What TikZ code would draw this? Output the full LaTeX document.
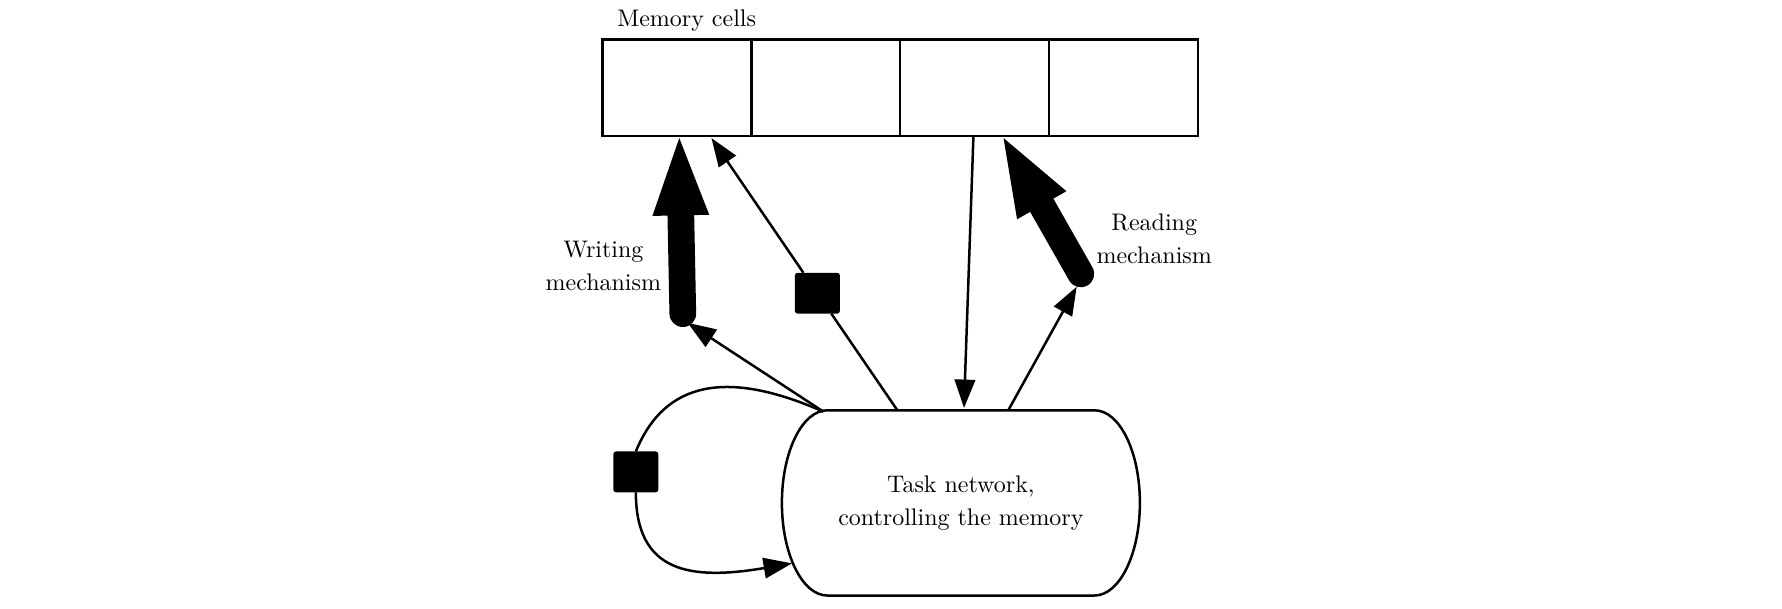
\documentclass[tikz,border=0pt]{standalone}
\usepackage{fontspec}
\usetikzlibrary{arrows.meta,calc}
\begin{document}
\begin{tikzpicture}[x=0.5pt,y=-0.5pt,
  font=\fontsize{10.55}{14.6}\selectfont,
  line width=1.1pt,
  cell/.style={draw, minimum width=65.45pt, minimum height=42.55pt, inner sep=0pt, outer sep=0pt},
  gate/.style={fill=black, minimum width=19.8pt, minimum height=18pt, inner sep=0pt, outer sep=0pt, rounded corners=1.2pt},
  taskbox/.style={align=center, minimum width=157.5pt, minimum height=81.5pt, inner sep=0pt, outer sep=0pt},
  thinarrow/.style={-{Triangle[length=12.5pt,width=9pt]}},
  thickarrow/.style={line width=11.75pt, line cap=round, -{Triangle[length=34pt,width=25pt,line width=0pt]}},
  lbl/.style={align=center, inner sep=0pt},
]
\useasboundingbox (0,0) rectangle (1568,535);

% memory cells
\node[cell] (c1) at (595.75,77.15) {};
\node[cell] (c2) at (726.65,77.15) {};
\node[cell] (c3) at (857.55,77.15) {};
\node[cell] (c4) at (988.45,77.15) {};
\node[anchor=base, inner sep=0pt] (memlbl) at (604.2,22.9) {Memory cells};

% task network
\node[taskbox] (task) at (845.5,442.5) {Task network,\\controlling the memory};
\draw ($(task.north west)+(40,0)$) .. controls ($(task.north west)+(17.9,0)$) and ($(task.west)+(0,-45)$) .. (task.west)
  .. controls ($(task.west)+(0,45)$) and ($(task.south west)+(17.9,0)$) .. ($(task.south west)+(40,0)$)
  -- ($(task.south east)+(-40,0)$)
  .. controls ($(task.south east)+(-17.9,0)$) and ($(task.east)+(0,45)$) .. (task.east)
  .. controls ($(task.east)+(0,-45)$) and ($(task.north east)+(-17.9,0)$) .. ($(task.north east)+(-40,0)$)
  -- cycle;

% labels
\node[lbl] (wlbl) at (530.9,234.2) {Writing\\mechanism};
\node[lbl] (rlbl) at (1015.6,209.8) {Reading\\mechanism};

% gates
\node[gate] (g1) at (719.2,258) {};
\node[gate] (g2) at (559.5,415.2) {};

% connection points
\coordinate (t1) at ($(task.north)+(-121,1.2)$);
\coordinate (t2) at ($(task.north)+(-55.9,0)$);
\coordinate (t3) at ($(task.north)+(2.7,-2)$);
\coordinate (t4) at ($(task.north)+(41.7,0)$);
\coordinate (wtail) at (600.8,276);
\coordinate (rtail) at (951,241);
\coordinate (wtip) at (605,284);
\coordinate (rtip) at (947.4,252.3);
\coordinate (loopend) at ($(task.west)+(8.9,53.2)$);

% thick mechanism arrows
\draw[thickarrow] (wtail) -- ($(c1.south)+(1.95,1.8)$);
\draw[thickarrow] (rtail) -- ($(c3.south)+(25.45,1.8)$);

% thin arrows
\draw[thinarrow] (t1) -- (wtip);
\draw[thinarrow] (t4) -- (rtip);
\draw[thinarrow] ($(c3.south)+(-1.05,0.8)$) -- (t3);
\draw (t2) -- (g1);
\draw[thinarrow] (g1) -- ($(c1.south)+(30.25,1.8)$);

% self loop
\draw (t1) .. controls (640,325) and (585,335) .. (g2.north);
\draw[thinarrow] (g2.south) .. controls (559.5,503.5) and (606.6,511) .. (loopend);
\end{tikzpicture}
\end{document}
